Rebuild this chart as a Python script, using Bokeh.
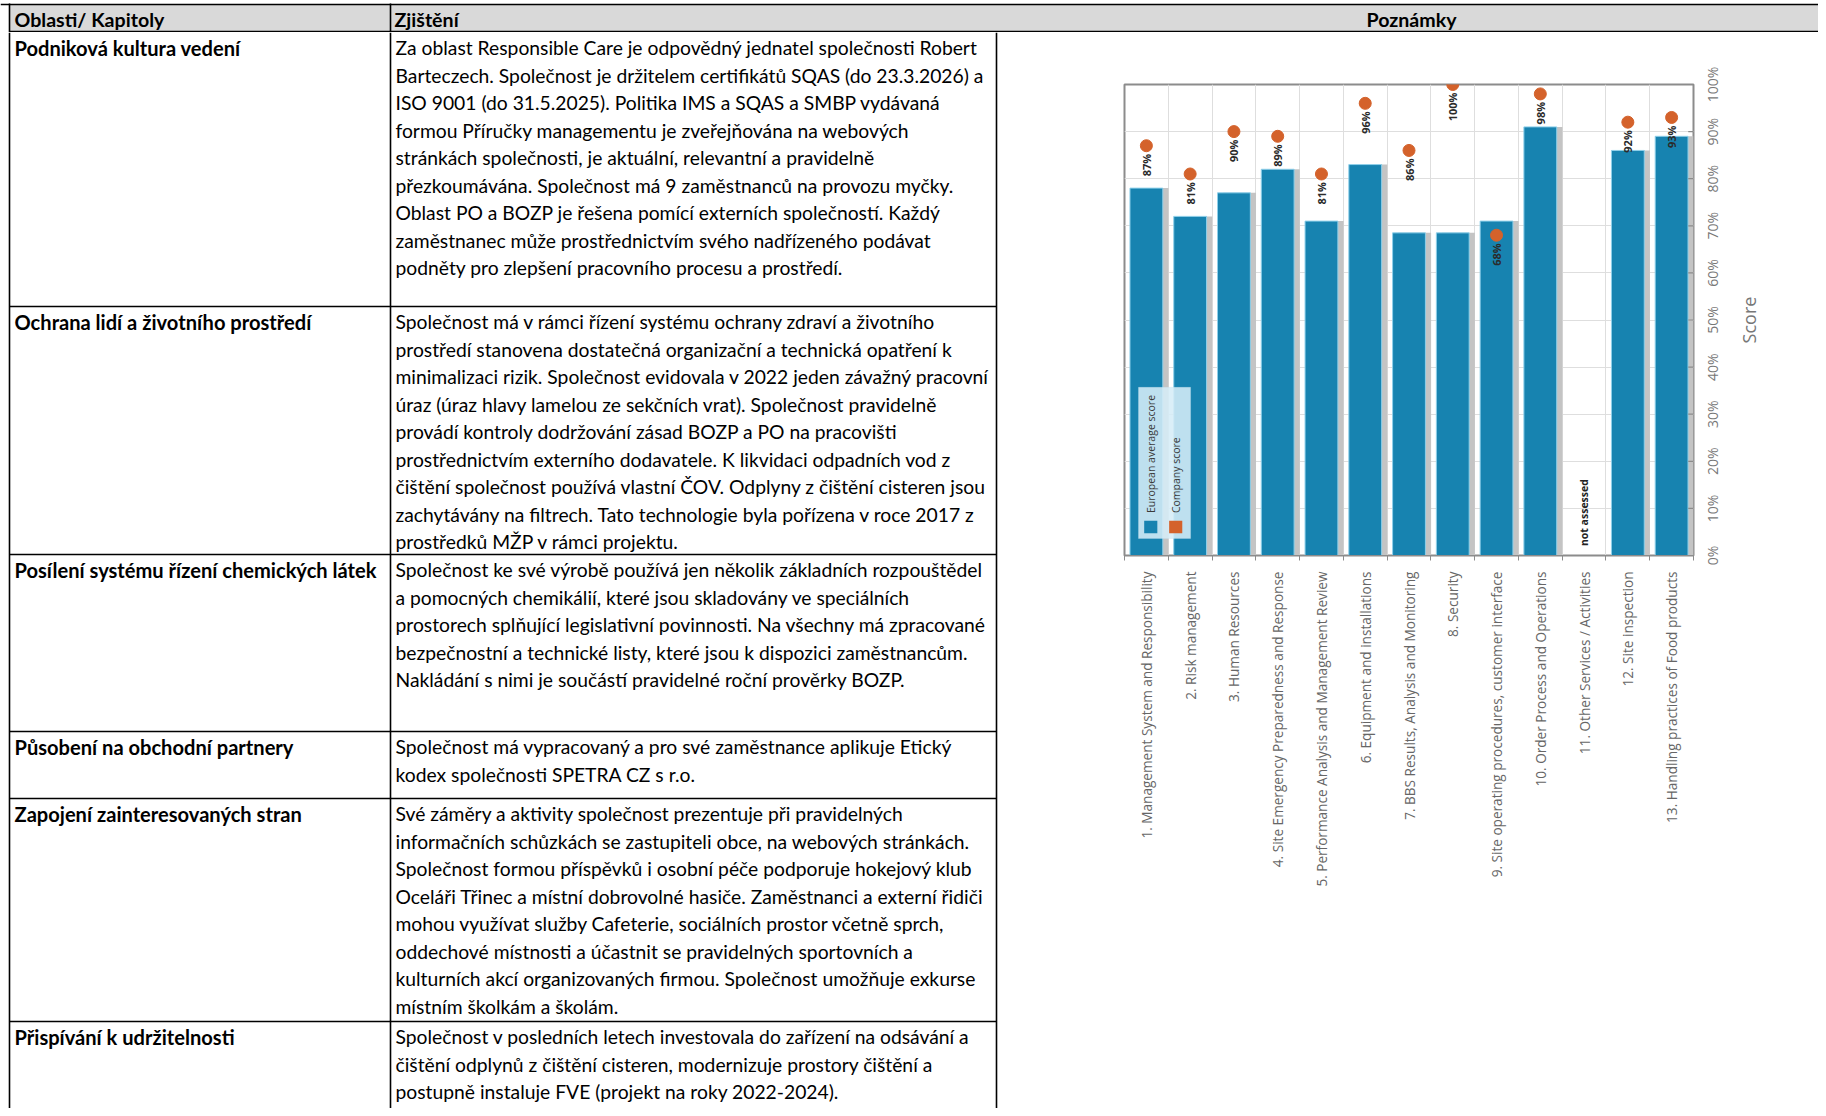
import math
from bokeh.plotting import figure
from bokeh.layouts import column, row
from bokeh.models import (Range1d, FixedTicker, BoxAnnotation, Label, ColumnDataSource)
from bokeh.transform import dodge
from bokeh.core.properties import value
from bokeh.embed import file_html
from bokeh.resources import INLINE

# ------------------------------------------------------------------ data
header_labels = ["Oblasti/ Kapitoly", "Zjištění", "Poznámky"]

row_titles = [
    "Podniková kultura vedení",
    "Ochrana lidí a životního prostředí",
    "Posílení systému řízení chemických látek",
    "Působení na obchodní partnery",
    "Zapojení zainteresovaných stran",
    "Přispívání k udržitelnosti",
]

row_texts = [
    ["Za oblast Responsible Care je odpovědný jednatel společnosti Robert",
     "Barteczech. Společnost je držitelem certifikátů SQAS (do 23.3.2026) a",
     "ISO 9001 (do 31.5.2025).  Politika IMS a SQAS a SMBP vydávaná",
     "formou Příručky managementu  je zveřejňována na webových",
     "stránkách společnosti, je aktuální, relevantní a pravidelně",
     "přezkoumávána. Společnost má 9 zaměstnanců na provozu myčky.",
     "Oblast PO a BOZP je řešena pomící externích společností. Každý",
     "zaměstnanec může prostřednictvím svého nadřízeného podávat",
     "podněty pro zlepšení pracovního procesu a prostředí."],
    ["Společnost má v rámci řízení systému ochrany zdraví a životního",
     "prostředí stanovena dostatečná organizační a technická opatření k",
     "minimalizaci rizik. Společnost evidovala v 2022 jeden závažný pracovní",
     "úraz (úraz hlavy lamelou ze sekčních vrat). Společnost pravidelně",
     "provádí kontroly dodržování zásad BOZP a PO na pracovišti",
     "prostřednictvím externího dodavatele. K likvidaci odpadních vod z",
     "čištění společnost používá vlastní ČOV. Odplyny z čištění cisteren jsou",
     "zachytávány na filtrech. Tato technologie byla pořízena v roce 2017 z",
     "prostředků MŽP v rámci projektu."],
    ["Společnost ke své výrobě používá jen několik základních rozpouštědel",
     "a pomocných chemikálií, které jsou skladovány ve speciálních",
     "prostorech splňující legislativní povinnosti. Na všechny má zpracované",
     "bezpečnostní a technické listy, které jsou k dispozici zaměstnancům.",
     "Nakládání s nimi je součástí pravidelné roční prověrky BOZP."],
    ["Společnost má vypracovaný a pro své zaměstnance aplikuje Etický",
     "kodex společnosti SPETRA CZ s r.o."],
    ["Své záměry a aktivity společnost prezentuje při pravidelných",
     "informačních schůzkách se zastupiteli obce, na webových stránkách.",
     "Společnost formou příspěvků i osobní péče podporuje hokejový klub",
     "Oceláři Třinec a místní dobrovolné hasiče. Zaměstnanci a externí řidiči",
     "mohou využívat služby Cafeterie, sociálních prostor včetně sprch,",
     "oddechové místnosti a účastnit se pravidelných sportovních a",
     "kulturních akcí organizovaných firmou. Společnost umožňuje exkurse",
     "místním školkám a školám."],
    ["Společnost v posledních letech investovala do zařízení na odsávání a",
     "čištění odplynů z čištění cisteren, modernizuje prostory čištění a",
     "postupně instaluje FVE (projekt na roky 2022-2024)."],
]

categories = [
    "1. Management System and Responsibility",
    "2. Risk management",
    "3. Human Resources",
    "4. Site Emergency Preparedness and Response",
    "5. Performance Analysis and Management Review",
    "6. Equipment and installations",
    "7. BBS Results, Analysis and Monitoring",
    "8. Security",
    "9. Site operating procedures, customer interface",
    "10. Order Process and Operations",
    "11. Other Services / Activities",
    "12. Site inspection",
    "13. Handling practices of Food products",
]
european_average = [78, 72, 77, 82, 71, 83, 68.5, 68.5, 71, 91, None, 86, 89]
company_score = [87, 81, 90, 89, 81, 96, 86, 100, 68, 98, None, 92, 93]
score_ticks = [0, 10, 20, 30, 40, 50, 60, 70, 80, 90, 100]
score_tick_labels = ["0%", "10%", "20%", "30%", "40%", "50%", "60%", "70%",
                     "80%", "90%", "100%"]
legend_labels = ["European average score", "Company score"]
not_assessed_text = "not assessed"
axis_title = "Score"

# ------------------------------------------------------------------ layout
PAGE_W, PAGE_H = 1818, 1108
HEADER_H = 32
TABLE_W = 998
BODY_H = PAGE_H - HEADER_H

TABLE_FONT = value("Lato")
FS = "19.3px"
FSB = "20.1px"
row_bounds = [0, 274, 522, 699, 766, 989, BODY_H]
col_x = [9, 390, 996]
LINE_H = 27.5
FIRST = 15.0

# chart frame geometry (pixels inside the chart panel)
CH_LEFT, CH_FRAME_W, CH_RIGHT = 126, 569, 2
CH_TOP, CH_FRAME_H = 52, 471
CH_BOTTOM = BODY_H - CH_TOP - CH_FRAME_H
CHART_W = CH_LEFT + CH_FRAME_W + CH_RIGHT
YLAB_W = PAGE_W - TABLE_W - CHART_W


def no_align(f):
    if "frame_align" in f.properties():
        f.frame_align = False


def blank(w, h, xr, yr):
    f = figure(width=w, height=h, x_range=xr, y_range=yr, toolbar_location=None,
               output_backend="svg", min_border=0)
    f.axis.visible = False
    f.grid.visible = False
    f.outline_line_color = None
    f.background_fill_color = "white"
    f.border_fill_color = "white"
    no_align(f)
    return f


# ---- header
hdr = blank(PAGE_W, HEADER_H, Range1d(0, PAGE_W), Range1d(HEADER_H, 0))
hdr.quad(left=[col_x[0]], right=[PAGE_W], top=[4], bottom=[31], fill_color="#d9d9d9",
         line_color=None)
hdr.segment(x0=[0, col_x[0], col_x[0], col_x[1]], y0=[4, 31, 3, 3],
            x1=[PAGE_W, PAGE_W, col_x[0], col_x[1]], y1=[4, 31, HEADER_H, HEADER_H],
            line_color="black", line_width=1.6)
hdr.text(x=[col_x[0] + 5, col_x[1] + 4], y=[18.5, 18.5], text=header_labels[:2],
         text_font=TABLE_FONT, text_font_size="19.6px", text_font_style="bold",
         text_baseline="middle", text_align="left", text_color="black")
hdr.text(x=[1411], y=[18.5], text=header_labels[2:], text_font=TABLE_FONT,
         text_font_size="19.6px", text_font_style="bold", text_baseline="middle",
         text_align="center", text_color="black")

# ---- table body
tbl = blank(TABLE_W, BODY_H, Range1d(0, TABLE_W), Range1d(BODY_H, 0))
vx = col_x
tbl.segment(x0=vx, y0=[0] * 3, x1=vx, y1=[BODY_H] * 3, line_color="black", line_width=1.6)
hb = row_bounds[1:-1]
tbl.segment(x0=[col_x[0]] * len(hb), y0=hb, x1=[col_x[2]] * len(hb), y1=hb,
            line_color="black", line_width=1.6)

tx, ty, tt = [], [], []
bx, by, bt = [], [], []
for i, (title, lines) in enumerate(zip(row_titles, row_texts)):
    top = row_bounds[i]
    tx.append(col_x[0] + 5)
    ty.append(top + FIRST)
    tt.append(title)
    for j, ln in enumerate(lines):
        bx.append(col_x[1] + 5)
        by.append(top + FIRST + j * LINE_H)
        bt.append(ln)
tbl.text(x=tx, y=ty, text=tt, text_font=TABLE_FONT, text_font_size=FSB,
         text_font_style="bold", text_baseline="middle", text_align="left",
         text_color="black")
tbl.text(x=bx, y=by, text=bt, text_font=TABLE_FONT, text_font_size=FS,
         text_baseline="middle", text_align="left", text_color="black")

# ---- chart
n = len(categories)
xs = list(range(1, n + 1))
bounds = [i + 0.5 for i in range(0, n + 1)]
nan = float("nan")
src = ColumnDataSource(dict(
    x=xs,
    eu=[nan if v is None else v for v in european_average],
    co=[nan if v is None else v for v in company_score],
))
ass = [(x, v) for x, v in zip(xs, company_score) if v is not None]
lab_src = ColumnDataSource(dict(x=[a[0] for a in ass], y=[a[1] for a in ass],
                                t=[f"{a[1]}%" for a in ass]))

CF = value("Open Sans")
Y0, Y1 = 0, 100
ch = figure(width=CHART_W, height=BODY_H, x_range=Range1d(0.5, n + 0.5),
            y_range=Range1d(Y0, Y1), toolbar_location=None, output_backend="svg",
            y_axis_location=None, min_border_left=CH_LEFT, min_border_right=CH_RIGHT,
            min_border_top=CH_TOP, min_border_bottom=CH_BOTTOM)
no_align(ch)
ch.background_fill_color = "white"
ch.border_fill_color = "white"
ch.outline_line_color = "#8c8c8c"
ch.outline_line_width = 2

xt = FixedTicker(ticks=xs, minor_ticks=bounds)
ch.xaxis.ticker = xt
ch.xgrid.ticker = xt
ch.xgrid.grid_line_color = None
ch.xgrid.minor_grid_line_color = "#dedede"
ch.xaxis.major_label_overrides = {x: c for x, c in zip(xs, categories)}
ch.xaxis.major_label_orientation = math.pi / 2
ch.xaxis.major_tick_in = 0
ch.xaxis.major_tick_out = 0
ch.xaxis.minor_tick_in = 0
ch.xaxis.minor_tick_out = 5
ch.xaxis.minor_tick_line_color = "#8c8c8c"
ch.xaxis.axis_line_color = "#8c8c8c"
ch.xaxis.major_label_text_font = "Open Sans"
ch.xaxis.major_label_text_font_size = "13.6px"
ch.xaxis.major_label_text_color = "#666666"
ch.xaxis.major_label_standoff = 11

yt = FixedTicker(ticks=score_ticks)
ch.ygrid.ticker = yt
ch.ygrid.grid_line_color = "#dedede"

# shadow + bars
ch.vbar(x=dodge("x", 0.13, range=ch.x_range), top="eu", width=0.75, source=src,
        fill_color="#c4c4c4", line_color=None)
ch.vbar(x="x", top="eu", width=0.75, source=src, fill_color="#1783b0",
        line_color="#8fd0ea", line_width=1)

# small inward ticks on the right edge of the plot box
ch.segment(x0=[n + 0.5 - 0.12] * len(score_ticks), y0=score_ticks,
           x1=[n + 0.5] * len(score_ticks), y1=score_ticks,
           line_color="#8c8c8c", line_width=1.2)

# legend (rotated, as in the scan)
ch.add_layout(BoxAnnotation(left=0.82, right=2.01, bottom=3.6, top=35.7,
                            fill_color="#d6edf7", fill_alpha=0.88,
                            line_color="#c3e2ef", line_width=1))
ch.add_layout(BoxAnnotation(left=0.95, right=1.25, bottom=4.7, top=7.4,
                            fill_color="#1783b0", fill_alpha=1, line_color=None))
ch.add_layout(BoxAnnotation(left=1.52, right=1.82, bottom=4.7, top=7.4,
                            fill_color="#d4622b", fill_alpha=1, line_color=None))
for lx, txt in zip([1.1, 1.67], legend_labels):
    ch.add_layout(Label(x=lx, y=9, text=txt, angle=math.pi / 2, text_align="left",
                        text_baseline="middle", text_font="Open Sans",
                        text_font_size="10.5px", text_color="#3a3a3a"))

# company dots + labels
ch.scatter(x="x", y="co", source=src, size=12, fill_color="#d4622b",
           line_color="#d4622b")
ch.text(x="x", y="y", text="t", source=lab_src, angle=math.pi / 2,
        text_align="right", text_baseline="middle", y_offset=8,
        text_font=CF, text_font_size="11px", text_font_style="bold",
        text_color="#2b2b2b")
for x, v in zip(xs, company_score):
    if v is None:
        ch.add_layout(Label(x=x, y=2, text=not_assessed_text, angle=math.pi / 2,
                            text_align="left", text_baseline="middle",
                            text_font="Open Sans", text_font_size="10.5px",
                            text_font_style="bold", text_color="#222222"))

# ---- right-hand score scale (rotated labels, same vertical scale as the chart)
px_per_unit = CH_FRAME_H / (Y1 - Y0)
ylab = blank(YLAB_W, BODY_H, Range1d(0, YLAB_W),
             Range1d(Y0 - CH_BOTTOM / px_per_unit, Y1 + CH_TOP / px_per_unit))
ylab.text(x=[17] * len(score_ticks), y=score_ticks, text=score_tick_labels,
          angle=math.pi / 2, text_align="center", text_baseline="middle",
          text_font=CF, text_font_size="14px", text_color="#777777")
ylab.text(x=[53], y=[(Y0 + Y1) / 2], text=[axis_title], angle=math.pi / 2,
          text_align="center", text_baseline="middle", text_font=CF,
          text_font_size="18px", text_color="#777777")

layout = column(hdr, row(tbl, ch, ylab, spacing=0), spacing=0)
open("out.html", "w").write(file_html(layout, INLINE))
